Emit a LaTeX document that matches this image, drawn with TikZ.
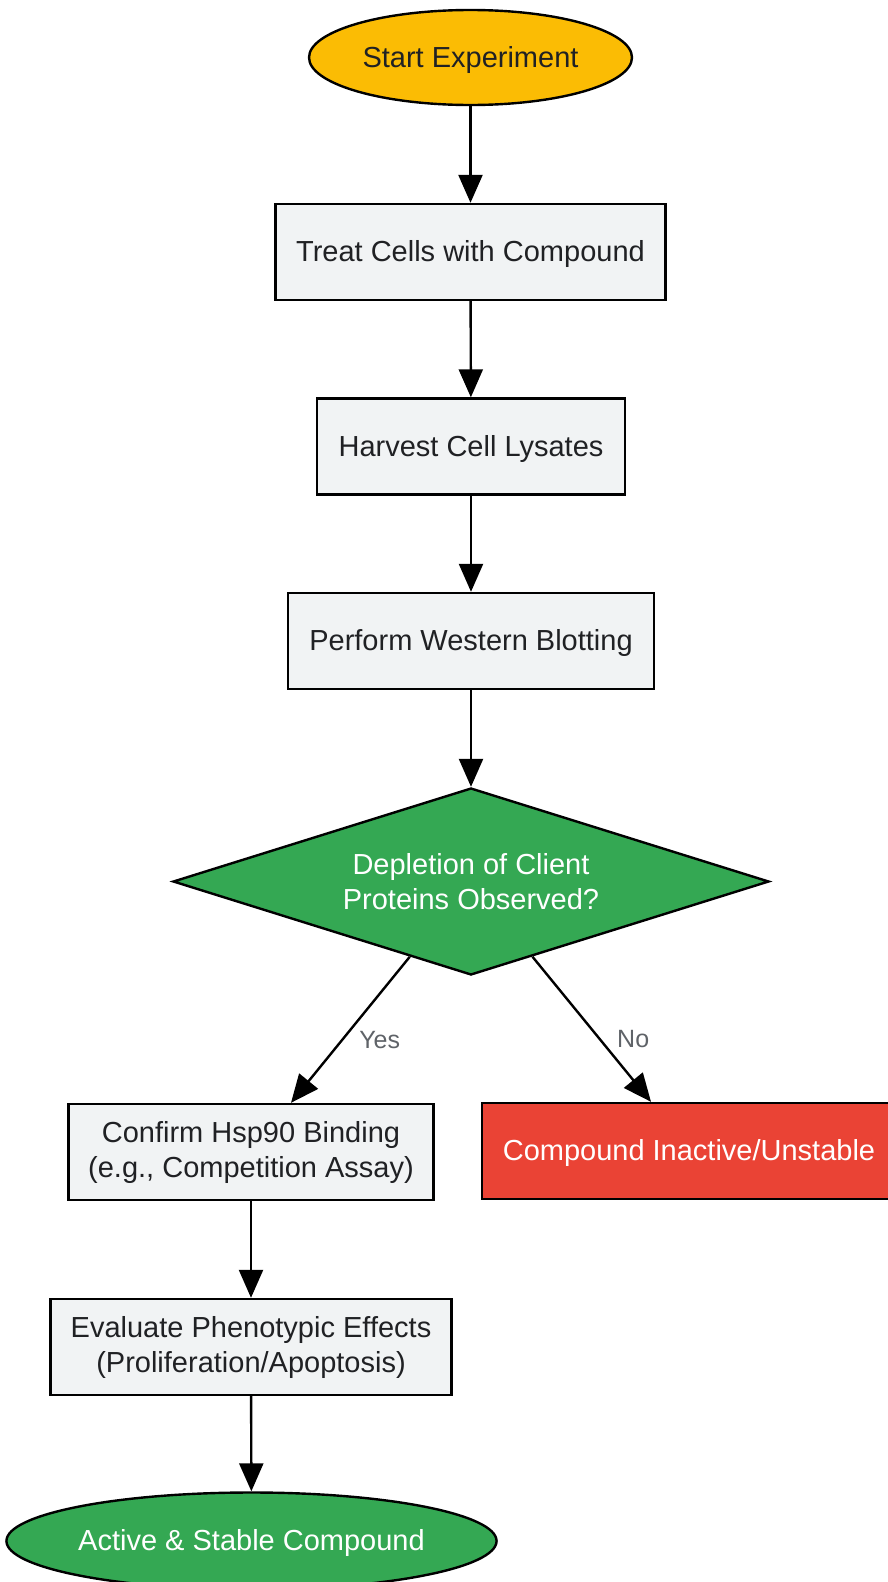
\documentclass[tikz,border=0pt]{standalone}
\usepackage{fontspec}
\setmainfont{Liberation Sans}
\usetikzlibrary{shapes.geometric,arrows.meta}
\definecolor{boxgray}{HTML}{F1F3F4}
\definecolor{startyellow}{HTML}{FBBC04}
\definecolor{okgreen}{HTML}{34A853}
\definecolor{badred}{HTML}{EA4335}
\definecolor{txtdark}{HTML}{202124}
\definecolor{lblgray}{HTML}{5F6368}

\begin{document}
\begin{tikzpicture}[x=1pt,y=-1pt,
  every node/.style={font=\fontsize{29}{35}\selectfont, text=txtdark, line width=2.4pt, inner sep=0pt},
  stepbox/.style={draw, fill=boxgray, minimum height=96pt, align=center},
  oneline/.style={text height=25pt, text depth=6pt},
  endpoint/.style={draw, ellipse, minimum height=95pt, oneline},
  check/.style={draw, diamond, aspect=3.19, fill=okgreen, text=white, align=center},
  lbl/.style={font=\fontsize{25}{30}\selectfont, text=lblgray},
  flow/.style={line width=2.4pt, -{Triangle[length=28pt,width=24pt]}}]
  \useasboundingbox (0,0) rectangle (887,1582);
%  main column
  \node[endpoint, fill=startyellow, minimum width=323pt] (start) at (470.5,57.5) {Start Experiment};
  \node[stepbox, oneline, minimum width=390pt] (treat) at (470.5,252) {Treat Cells with Compound};
  \node[stepbox, oneline, minimum width=308pt] (harvest) at (471,446.5) {Harvest Cell Lysates};
  \node[stepbox, oneline, minimum width=366pt] (blot) at (471,641) {Perform Western Blotting};
  \node[check, minimum width=596pt, minimum height=187pt] (depl) at (471,881.5) {Depletion of Client\\Proteins Observed?};
%  branches
  \node[stepbox, minimum width=365pt] (confirm) at (251,1152) {Confirm Hsp90 Binding\\(e.g., Competition Assay)};
  \node[stepbox, oneline, fill=badred, text=white, minimum width=414pt] (inactive) at (689,1151) {Compound Inactive/Unstable};
  \node[stepbox, minimum width=401pt] (pheno) at (251,1347) {Evaluate Phenotypic Effects\\(Proliferation/Apoptosis)};
  \node[endpoint, fill=okgreen, text=white, minimum width=485pt, minimum height=97pt] (active) at (251.5,1541) {Active \& Stable Compound};

  \draw[flow] (start) -- (treat);
  \draw[flow] (treat) -- (harvest);
  \draw[flow] (harvest) -- (blot);
  \draw[flow] (blot) -- (depl);
  \draw[flow] (depl) -- node[lbl, pos=0.57, right=16pt] (yes) {Yes} ([xshift=40pt]confirm.north);
  \draw[flow] (depl) -- node[lbl, pos=0.57, right=16pt] (no) {No} ([xshift=-38pt]inactive.north);
  \draw[flow] (confirm) -- (pheno);
  \draw[flow] (pheno) -- (active);
\end{tikzpicture}
\end{document}
